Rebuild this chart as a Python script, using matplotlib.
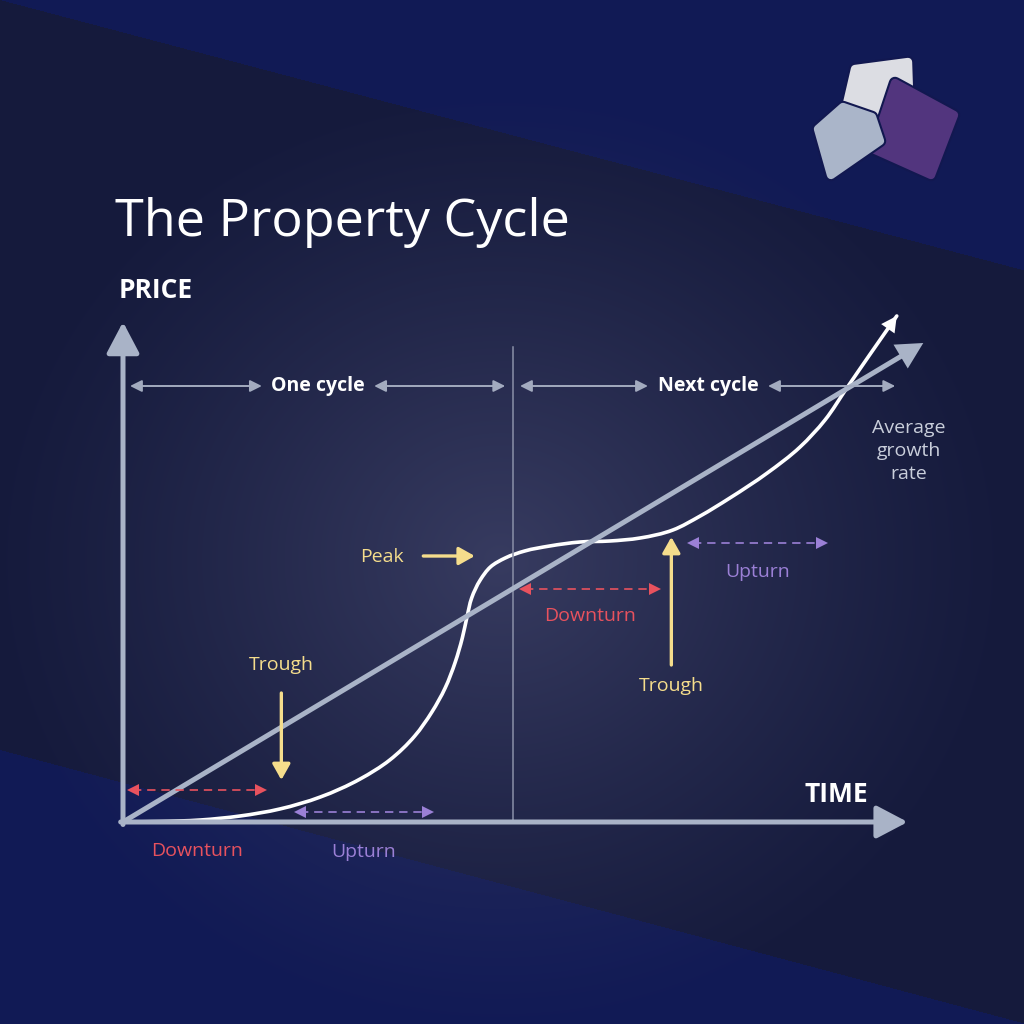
import numpy as np
import matplotlib.pyplot as plt
from matplotlib.patches import Polygon, PathPatch
from matplotlib.path import Path

plt.rcParams['font.family'] = ['Open Sans', 'DejaVu Sans']

# price path through two cycles (time, price index)
time_curve = [0.00, 0.47, 0.99, 1.50, 2.01, 2.53, 3.04, 3.42, 3.74, 3.96, 4.13, 4.26, 4.35,
              4.41, 4.47, 4.58, 4.71, 4.90, 5.15, 5.47, 5.86, 6.24, 6.63, 7.05, 7.40, 7.78,
              8.26, 8.68, 9.00, 9.28, 9.58, 9.92]
price_curve = [0.00, 0.01, 0.04, 0.12, 0.26, 0.50, 0.86, 1.24, 1.72, 2.20, 2.68, 3.20, 3.68,
               4.10, 4.48, 4.84, 5.10, 5.28, 5.42, 5.52, 5.60, 5.62, 5.68, 5.84, 6.12, 6.48,
               6.98, 7.50, 8.04, 8.68, 9.36, 10.12]

# average growth rate
trend_time = [0.0, 10.26]
trend_price = [0.0, 9.58]

# cycles
cycle_names = ["One cycle", "Next cycle"]
cycle_edges = [0.0, 5.0, 10.0]

# downturn / upturn spans
phase_names = ["Downturn", "Upturn", "Downturn", "Upturn"]
phase_start = [0.13, 2.27, 5.15, 7.31]
phase_end = [1.77, 3.91, 6.82, 8.96]
phase_level = [0.64, 0.20, 4.66, 5.58]
phase_label_xy = [(0.95, -0.58), (3.09, -0.60), (5.99, 4.12), (8.13, 5.00)]

# peak / trough markers: label, label pos, arrow tail, arrow head
turn_names = ["Peak", "Trough", "Trough"]
turn_label_xy = [(3.32, 5.30), (2.03, 3.14), (7.03, 2.72)]
turn_tail = [(3.85, 5.32), (2.03, 2.58), (7.03, 3.14)]
turn_head = [(4.51, 5.32), (2.03, 0.84), (7.03, 5.70)]

AXIS = '#a9b3c7'
YELLOW = '#f5dd8c'
RED = '#e8525e'
PURPLE = '#9b80d6'
GREY_TXT = '#c9cedb'
DARK = np.array([21, 26, 60]) / 255
BLUE = np.array([17, 26, 85]) / 255
GLOW = np.array([57, 61, 98]) / 255


def smooth_path(xs, ys, sx=78.0, sy=50.0):
    # bezier segments through the read points, chord-length catmull-rom tangents
    p = np.column_stack([xs, ys]) * [sx, sy]
    d = np.hypot(*np.diff(p, axis=0).T)
    t = np.concatenate([[0], np.cumsum(d)])
    m = np.gradient(p, t, axis=0)
    verts = [p[0]]
    codes = [Path.MOVETO]
    for i in range(len(p) - 1):
        h = t[i + 1] - t[i]
        verts += [p[i] + m[i] * h / 3, p[i + 1] - m[i + 1] * h / 3, p[i + 1]]
        codes += [Path.CURVE4] * 3
    verts = np.array(verts) / [sx, sy]
    return Path(verts, codes)


fig = plt.figure(figsize=(10.24, 10.24), dpi=100)

# background: diagonal band + soft radial glow
bg = fig.add_axes([0, 0, 1, 1])
yy, xx = np.mgrid[0:1024, 0:1024] + 0.5
band = (yy > 0.264 * xx) & (yy < 750 + 0.267 * xx)
base = np.where(band[..., None], DARK, BLUE)
r = np.sqrt(((xx - 500) / 520) ** 2 + ((yy - 560) / 480) ** 2)
glow = np.clip(1 - r, 0, 1) ** 1.2 * 0.95
img = base + glow[..., None] * (GLOW - base)
bg.imshow(img, extent=(0, 1024, 1024, 0), interpolation='bilinear')
bg.set_xlim(0, 1024)
bg.set_ylim(1024, 0)
bg.axis('off')

# logo
navy = '#121850'
shapes = [
    ([(855, 69), (908, 62), (909, 92), (874, 113), (845, 112)], '#dcdde3'),
    ([(895, 83), (954, 115), (931, 175), (873, 149)], '#52357e'),
    ([(843, 107), (872, 117), (880, 141), (831, 175), (818, 129)], '#aab5c9'),
]
for pts, col in shapes:
    bg.add_patch(Polygon(pts, closed=True, fc=navy, ec=navy, lw=9, joinstyle='round'))
    bg.add_patch(Polygon(pts, closed=True, fc=col, ec=col, lw=6, joinstyle='round'))

bg.text(115, 222, "The Property Cycle", color='white', fontsize=37.5, ha='left', va='center')

# chart
ax = fig.add_axes([123 / 1024, 202 / 1024, 780 / 1024, 500 / 1024])
ax.set_xlim(0, 10)
ax.set_ylim(0, 10)
ax.axis('off')
ax.patch.set_visible(False)

axis_style = dict(arrowstyle='-|>,head_length=0.95,head_width=0.5', mutation_scale=20,
                  lw=3.6, color=AXIS, shrinkA=0, shrinkB=0, joinstyle='round')
ax.annotate('', xy=(0, 10), xytext=(0, -0.05), arrowprops=axis_style, annotation_clip=False)
ax.annotate('', xy=(10.06, 0), xytext=(-0.03, 0), arrowprops=axis_style, annotation_clip=False)

ax.text(-0.05, 10.64, "PRICE", color='white', fontsize=19, fontweight='bold',
        ha='left', va='center')
ax.text(9.55, 0.54, "TIME", color='white', fontsize=19, fontweight='bold',
        ha='right', va='center')

# cycle separator and spans
ax.plot([cycle_edges[1], cycle_edges[1]], [0, 9.5], color='#8a90a8', lw=1.1)
span_style = dict(arrowstyle='<|-|>,head_length=0.7,head_width=0.35', mutation_scale=10,
                  lw=1.4, color='#a3abbf', shrinkA=0, shrinkB=0)
for name, a, b in zip(cycle_names, cycle_edges[:-1], cycle_edges[1:]):
    mid = (a + b) / 2
    ax.text(mid, 8.72, name, color='white', fontsize=14, fontweight='bold',
            ha='center', va='center')
    half = 0.72 if name == "One cycle" else 0.77
    ax.annotate('', xy=(mid - half, 8.72), xytext=(a + 0.09, 8.72), arrowprops=span_style)
    ax.annotate('', xy=(b - 0.1, 8.72), xytext=(mid + half, 8.72), arrowprops=span_style)

# average growth line
ax.plot(trend_time[:1] + [trend_time[1] - 0.25], trend_price[:1] + [trend_price[1] - 0.233],
        color=AXIS, lw=3.6, solid_capstyle='butt')
ax.annotate('', xy=(trend_time[1], trend_price[1]), xytext=(trend_time[0], trend_price[0]),
            arrowprops=dict(arrowstyle='-|>,head_length=0.95,head_width=0.5',
                            mutation_scale=20, lw=0, color=AXIS, shrinkA=0, shrinkB=0),
            annotation_clip=False)
ax.text(10.08, 7.42, "Average\ngrowth\nrate", color=GREY_TXT, fontsize=14,
        ha='center', va='center', linespacing=1.38)

# price curve
ax.add_patch(PathPatch(smooth_path(time_curve, price_curve), fc='none', ec='white', lw=2.6,
                       capstyle='round', joinstyle='round', clip_on=False))
ax.annotate('', xy=(time_curve[-1], price_curve[-1]), xytext=(time_curve[-2], price_curve[-2]),
            arrowprops=dict(arrowstyle='-|>,head_length=0.8,head_width=0.42', mutation_scale=14,
                            lw=0, color='white', shrinkA=0, shrinkB=0),
            annotation_clip=False)

# downturn / upturn spans
for name, s, e, lvl, (lx, ly) in zip(phase_names, phase_start, phase_end, phase_level,
                                     phase_label_xy):
    c = RED if name == "Downturn" else PURPLE
    ax.plot([s, e], [lvl, lvl], color=c, lw=1.2, ls=(0, (5, 3.5)))
    ax.plot([s], [lvl], marker='<', ms=8, color=c, mew=0)
    ax.plot([e], [lvl], marker='>', ms=8, color=c, mew=0)
    ax.text(lx, ly, name, color=c, fontsize=14, ha='center', va='center')

# peak / trough markers
for name, (lx, ly), tail, head in zip(turn_names, turn_label_xy, turn_tail, turn_head):
    ax.text(lx, ly, name, color=YELLOW, fontsize=14, ha='center', va='center')
    ax.annotate('', xy=head, xytext=tail,
                arrowprops=dict(arrowstyle='-|>,head_length=0.8,head_width=0.45',
                                mutation_scale=12, lw=2.4, color=YELLOW,
                                shrinkA=0, shrinkB=0))

fig.savefig('out.png', dpi=100, facecolor=fig.get_facecolor())
